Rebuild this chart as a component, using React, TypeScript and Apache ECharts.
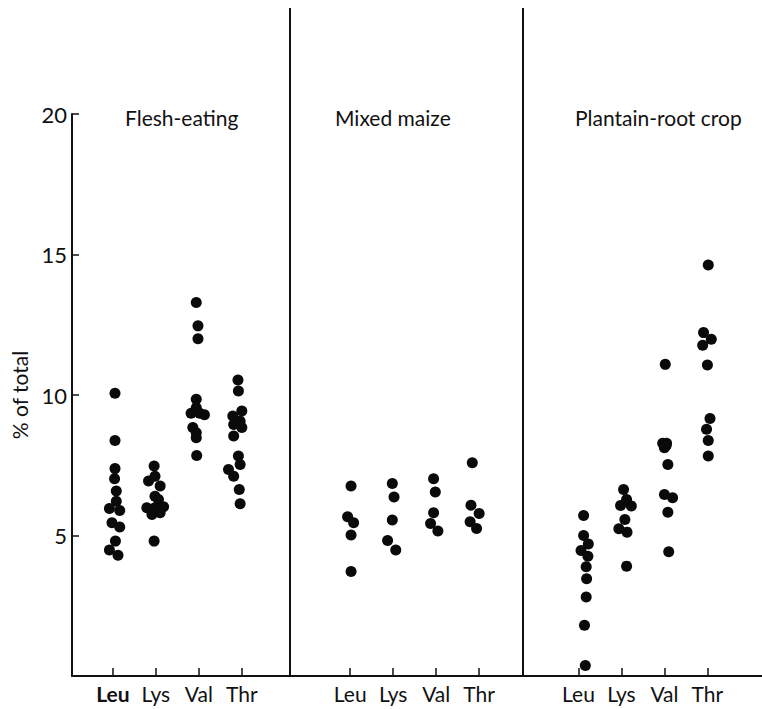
import React, { useEffect, useRef } from "react";
import * as echarts from "echarts";

// Amino acid categories shown in each panel
const aminoAcids = ["Leu", "Lys", "Val", "Thr"];
const panelTitles = ["Flesh-eating", "Mixed maize", "Plantain-root crop"];

// Each point: [horizontal jitter within column, % of total]
const fleshLeu: [number, number][] = [
  [0.05, 10.06], [0.05, 8.38], [0.05, 7.38], [0.04, 7.02], [0.08, 6.58], [0.08, 6.22],
  [-0.08, 5.96], [0.16, 5.89], [-0.02, 5.45], [0.16, 5.3], [0.06, 4.8], [-0.08, 4.48], [0.12, 4.3],
];
const fleshLys: [number, number][] = [
  [-0.04, 7.47], [-0.02, 7.11], [-0.17, 6.94], [0.1, 6.76], [-0.02, 6.4], [0.06, 6.28],
  [-0.21, 5.99], [-0.02, 5.99], [0.18, 6.02], [-0.09, 5.75], [0.1, 5.81], [-0.04, 4.8],
];
const fleshVal: [number, number][] = [
  [-0.06, 13.29], [-0.02, 12.46], [-0.02, 12.0], [-0.06, 9.85], [-0.06, 9.55], [-0.18, 9.35],
  [0.02, 9.35], [0.13, 9.3], [-0.14, 8.84], [-0.06, 8.66], [-0.06, 8.48], [-0.05, 7.85],
];
const fleshThr: [number, number][] = [
  [-0.09, 10.53], [-0.08, 10.14], [0.0, 9.43], [-0.21, 9.25], [-0.04, 9.07], [-0.19, 8.95],
  [0.0, 8.84], [-0.19, 8.54], [-0.08, 7.83], [-0.04, 7.53], [-0.31, 7.35], [-0.19, 7.11],
  [-0.06, 6.64], [-0.04, 6.13],
];

const maizeLeu: [number, number][] = [
  [0.02, 6.76], [-0.06, 5.67], [0.08, 5.45], [0.02, 5.02], [0.02, 3.72],
];
const maizeLys: [number, number][] = [
  [-0.02, 6.85], [0.02, 6.37], [-0.02, 5.55], [-0.13, 4.82], [0.06, 4.48],
];
const maizeVal: [number, number][] = [
  [-0.06, 7.02], [-0.02, 6.55], [-0.06, 5.81], [-0.13, 5.43], [0.04, 5.16],
];
const maizeThr: [number, number][] = [
  [-0.16, 7.59], [-0.19, 6.08], [0.0, 5.78], [-0.21, 5.49], [-0.06, 5.25],
];

const plantainLeu: [number, number][] = [
  [0.12, 5.71], [0.12, 5.0], [0.23, 4.7], [0.06, 4.47], [0.22, 4.26], [0.18, 3.89],
  [0.19, 3.46], [0.18, 2.81], [0.14, 1.81], [0.16, 0.37],
];
const plantainLys: [number, number][] = [
  [0.05, 6.64], [0.12, 6.28], [-0.02, 6.07], [0.23, 6.05], [0.08, 5.57], [-0.06, 5.24],
  [0.13, 5.12], [0.12, 3.91],
];
const plantainVal: [number, number][] = [
  [0.02, 11.09], [-0.04, 8.28], [0.05, 8.28], [0.0, 8.12], [0.04, 8.2], [0.08, 7.53],
  [0.0, 6.46], [0.19, 6.34], [0.08, 5.83], [0.1, 4.42],
];
const plantainThr: [number, number][] = [
  [0.02, 14.63], [-0.09, 12.22], [0.09, 11.98], [-0.11, 11.77], [0.0, 11.07], [0.06, 9.16],
  [-0.02, 8.78], [0.02, 8.38], [0.02, 7.83],
];

const panels = [
  [fleshLeu, fleshLys, fleshVal, fleshThr],
  [maizeLeu, maizeLys, maizeVal, maizeThr],
  [plantainLeu, plantainLys, plantainVal, plantainThr],
];

const FONT = "Lato, 'Open Sans', sans-serif";

export default function App() {
  const ref = useRef<HTMLDivElement>(null);

  useEffect(() => {
    document.body.style.margin = "0";
    if (!ref.current) return;
    const chart = echarts.init(ref.current, null, { renderer: "svg" });

    const gridDefs = [
      { left: 72, width: 218, min: -0.95, max: 4.12 },
      { left: 290, width: 233, min: -1.4, max: 4.02 },
      { left: 523, width: 239, min: -1.29, max: 4.27 },
    ];
    const top = 114;
    const bottom = 33;

    const grids = gridDefs.map((g) => ({ left: g.left, width: g.width, top, bottom }));

    const xAxes = gridDefs.map((g, i) => ({
      type: "value",
      gridIndex: i,
      min: g.min,
      max: g.max,
      splitLine: { show: false },
      axisLine: { show: true, onZero: false, lineStyle: { color: "#111", width: 2 } },
      axisTick: {
        show: true,
        inside: true,
        length: 8,
        customValues: [0, 1, 2, 3],
        lineStyle: { color: "#111", width: 1.5 },
      },
      axisLabel: {
        show: true,
        customValues: [0, 1, 2, 3],
        margin: 7,
        color: "#111",
        fontSize: 21,
        fontFamily: FONT,
        formatter: (v: number) => {
          const name = aminoAcids[Math.round(v)] ?? "";
          return i === 0 && Math.round(v) === 0 ? `{b|${name}}` : name;
        },
        rich: {
          b: { fontWeight: "bold", fontSize: 21, fontFamily: FONT, color: "#111" },
        },
      },
    }));

    const yAxes = gridDefs.map((_, i) => ({
      type: "value",
      gridIndex: i,
      min: 0,
      max: 20,
      interval: 5,
      show: i === 0,
      splitLine: { show: false },
      name: i === 0 ? "% of total" : "",
      nameLocation: "middle",
      nameRotate: 90,
      nameGap: 42,
      nameTextStyle: { color: "#111", fontSize: 21, fontFamily: FONT },
      axisLine: { show: true, onZero: false, lineStyle: { color: "#111", width: 2 } },
      axisTick: { show: true, inside: true, length: 7, lineStyle: { color: "#111", width: 1.5 } },
      axisLabel: {
        show: true,
        showMinLabel: false,
        color: "#111",
        fontSize: 22,
        fontFamily: FONT,
        margin: 5,
      },
    }));

    const series: any[] = [];
    panels.forEach((cols, gi) => {
      cols.forEach((pts, ci) => {
        series.push({
          type: "scatter",
          name: `${panelTitles[gi]} ${aminoAcids[ci]}`,
          xAxisIndex: gi,
          yAxisIndex: gi,
          symbol: "circle",
          symbolSize: 11,
          itemStyle: { color: "#0a0a0a", opacity: 1 },
          data: pts.map(([dx, v]) => [ci + dx, v]),
        });
      });
    });

    const titleLefts = [120, 330, 570];

    chart.setOption({
      animation: false,
      backgroundColor: "#ffffff",
      title: panelTitles.map((t, i) => ({
        text: t,
        left: titleLefts[i],
        top: 102,
        textStyle: { color: "#111", fontSize: 21, fontWeight: "normal", fontFamily: FONT },
      })),
      grid: grids,
      xAxis: xAxes,
      yAxis: yAxes,
      series,
      graphic: [
        {
          type: "line",
          shape: { x1: 290, y1: 8, x2: 290, y2: 676 },
          style: { stroke: "#111", lineWidth: 2 },
        },
        {
          type: "line",
          shape: { x1: 523, y1: 8, x2: 523, y2: 676 },
          style: { stroke: "#111", lineWidth: 2 },
        },
      ],
    });

    return () => chart.dispose();
  }, []);

  return <div ref={ref} style={{ width: 762, height: 709 }} />;
}
